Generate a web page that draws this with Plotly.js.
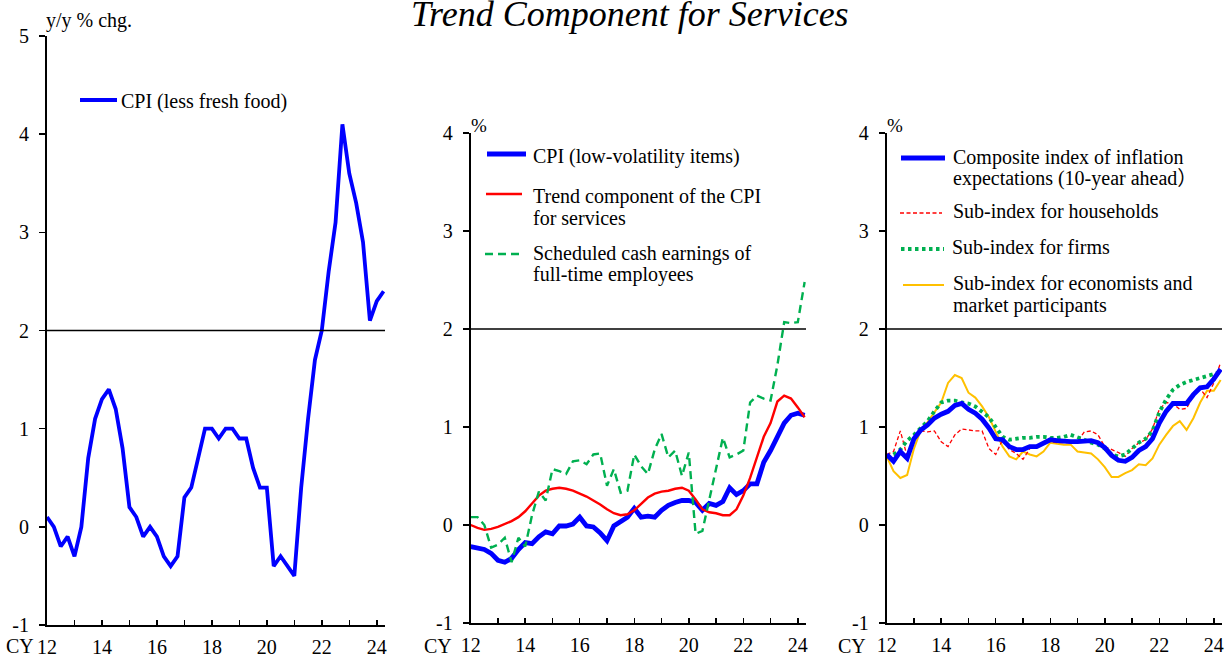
<!DOCTYPE html>
<html><head><meta charset="utf-8">
<script src="https://cdn.plot.ly/plotly-3.0.1.min.js"></script>
<style>html,body{margin:0;padding:0;background:#fff}#chart{width:1228px;height:657px}</style>
</head><body><div id="chart"></div>
<script>
// ---------------- DATA (quarterly, 2012Q1 - 2024Q2) ----------------
const START_YEAR = 2012;
const cpiLessFreshFood = [0.1, 0.0, -0.2, -0.1, -0.3, 0.0, 0.7, 1.1, 1.3, 1.4, 1.2, 0.8, 0.2, 0.1, -0.1, 0.0,
  -0.1, -0.3, -0.4, -0.3, 0.3, 0.4, 0.7, 1.0, 1.0, 0.9, 1.0, 1.0, 0.9, 0.9, 0.6, 0.4, 0.4, -0.4, -0.3, -0.4,
  -0.5, 0.4, 1.1, 1.7, 2.0, 2.6, 3.1, 4.1, 3.6, 3.3, 2.9, 2.1, 2.3, 2.4];
const cpiLowVolatility = [-0.22, -0.23, -0.25, -0.29, -0.36, -0.38, -0.34, -0.25, -0.18, -0.19, -0.12, -0.07,
  -0.09, -0.01, -0.01, 0.01, 0.08, -0.01, -0.02, -0.08, -0.16, -0.01, 0.03, 0.08, 0.17, 0.08, 0.09, 0.08,
  0.15, 0.20, 0.23, 0.25, 0.25, 0.23, 0.15, 0.22, 0.20, 0.24, 0.38, 0.31, 0.35, 0.42, 0.42, 0.64,
  0.76, 0.89, 1.04, 1.12, 1.14, 1.12];
const trendServices = [0.00, -0.03, -0.05, -0.04, -0.02, 0.01, 0.04, 0.08, 0.14, 0.22, 0.30, 0.35,
  0.37, 0.38, 0.37, 0.35, 0.32, 0.29, 0.25, 0.21, 0.16, 0.12, 0.10, 0.11, 0.15, 0.22, 0.28, 0.32,
  0.34, 0.35, 0.37, 0.38, 0.35, 0.26, 0.16, 0.13, 0.12, 0.10, 0.10, 0.16, 0.30, 0.48, 0.68, 0.90,
  1.04, 1.26, 1.32, 1.29, 1.20, 1.10];
const scheduledEarnings = [0.08, 0.08, 0.00, -0.23, -0.20, -0.13, -0.38, -0.13, -0.22, 0.10, 0.34, 0.25,
  0.57, 0.55, 0.52, 0.65, 0.66, 0.62, 0.72, 0.73, 0.40, 0.57, 0.33, 0.35, 0.72, 0.60, 0.52, 0.77,
  0.93, 0.69, 0.76, 0.50, 0.74, -0.09, -0.06, 0.26, 0.60, 0.89, 0.69, 0.72, 0.76, 1.25, 1.32, 1.29,
  1.27, 1.63, 2.07, 2.06, 2.07, 2.48];
const compositeExpect = [0.72, 0.65, 0.75, 0.68, 0.88, 0.97, 1.02, 1.09, 1.13, 1.16, 1.22, 1.24,
  1.18, 1.14, 1.08, 0.99, 0.88, 0.87, 0.80, 0.77, 0.77, 0.80, 0.80, 0.84, 0.87, 0.86, 0.85, 0.85,
  0.85, 0.86, 0.86, 0.84, 0.79, 0.71, 0.66, 0.65, 0.69, 0.76, 0.80, 0.88, 1.04, 1.16, 1.24, 1.24,
  1.24, 1.33, 1.40, 1.41, 1.49, 1.59];
const householdsExpect = [0.72, 0.75, 0.96, 0.70, 0.87, 0.96, 0.95, 0.96, 0.85, 0.80, 0.92, 0.98,
  0.97, 0.96, 0.96, 0.78, 0.72, 0.87, 0.77, 0.73, 0.67, 0.78, 0.80, 0.84, 0.85, 0.84, 0.84, 0.84,
  0.85, 0.95, 0.96, 0.92, 0.80, 0.77, 0.74, 0.70, 0.78, 0.84, 0.87, 0.98, 1.18, 1.25, 1.24, 1.18,
  1.19, 1.32, 1.39, 1.30, 1.45, 1.66];
const firmsExpect = [0.70, 0.72, 0.77, 0.86, 0.92, 0.99, 1.06, 1.16, 1.25, 1.27, 1.27, 1.25,
  1.24, 1.21, 1.16, 1.10, 1.00, 0.90, 0.87, 0.88, 0.89, 0.89, 0.90, 0.90, 0.89, 0.89, 0.90, 0.92,
  0.90, 0.87, 0.84, 0.82, 0.78, 0.72, 0.70, 0.72, 0.78, 0.84, 0.88, 0.96, 1.15, 1.28, 1.38, 1.43,
  1.46, 1.48, 1.50, 1.52, 1.54, 1.56];
const economistsExpect = [0.70, 0.55, 0.48, 0.51, 0.78, 0.97, 1.05, 1.15, 1.25, 1.45, 1.53, 1.50,
  1.35, 1.30, 1.21, 1.10, 0.95, 0.80, 0.70, 0.67, 0.75, 0.72, 0.70, 0.75, 0.84, 0.83, 0.82, 0.82,
  0.75, 0.74, 0.73, 0.67, 0.59, 0.49, 0.49, 0.53, 0.56, 0.62, 0.61, 0.68, 0.82, 0.92, 1.01, 1.06,
  0.97, 1.09, 1.25, 1.37, 1.37, 1.48];
const yearTicks = [2012, 2013, 2014, 2015, 2016, 2017, 2018, 2019, 2020, 2021, 2022, 2023, 2024];
const yearTickText = ['12', '', '14', '', '16', '', '18', '', '20', '', '22', '', '24'];
const yTicks1 = [-1, 0, 1, 2, 3, 4, 5];
const yTicks2 = [-1, 0, 1, 2, 3, 4];

// ---------------- BUILD ----------------
const quarterX = arr => arr.map((_, i) => START_YEAR + i / 4);
const W = 1228, H = 657;
const px = x => x / W, py = y => 1 - y / H;
const SERIF = '"Liberation Serif", "Times New Roman", "Noto Sans CJK JP", serif';
const BLUE = '#0000FF', RED = '#FF0000', GREEN = '#00B050', YELLOW = '#FFC000';

function line(y, xa, ya, color, width, dash) {
  return { x: quarterX(y), y: y, xaxis: xa, yaxis: ya, type: 'scatter', mode: 'lines',
    line: { color: color, width: width, dash: dash || 'solid' }, hoverinfo: 'skip' };
}
const traces = [
  line(cpiLessFreshFood, 'x', 'y', BLUE, 3.8),
  line(cpiLowVolatility, 'x2', 'y2', BLUE, 4.8),
  line(trendServices, 'x2', 'y2', RED, 2.4),
  line(scheduledEarnings, 'x2', 'y2', GREEN, 2.4, '8px,5px'),
  line(economistsExpect, 'x3', 'y3', YELLOW, 2),
  line(householdsExpect, 'x3', 'y3', RED, 1.3, '4px,2.5px'),
  line(firmsExpect, 'x3', 'y3', GREEN, 3.8, '3.5px,3.5px'),
  line(compositeExpect, 'x3', 'y3', BLUE, 4.8)
];

function xAx(d0, d1, anchor) {
  return { domain: [px(d0), px(d1)], range: [2012, 2024.3], anchor: anchor,
    tickmode: 'array', tickvals: yearTicks, ticktext: yearTickText,
    ticks: 'inside', ticklen: 5, tickwidth: 1.5, tickcolor: '#000',
    showline: true, linecolor: '#000', linewidth: 1.6, showgrid: false, zeroline: false,
    tickfont: { family: SERIF, size: 20, color: '#000' }, ticklabelstandoff: 3, fixedrange: true };
}
function yAx(top, bottom, range, vals, anchor) {
  return { domain: [py(bottom), py(top)], range: range, anchor: anchor,
    tickmode: 'array', tickvals: vals, ticktext: vals.map(String),
    ticks: 'outside', ticklen: 6, tickwidth: 1.5, tickcolor: '#000',
    showline: true, linecolor: '#000', linewidth: 2, showgrid: false, zeroline: false,
    tickfont: { family: SERIF, size: 20, color: '#000' }, ticklabelstandoff: 6, fixedrange: true };
}

const shapes = [];
const annotations = [];
['x', 'x2', 'x3'].forEach((xa, i) => {
  shapes.push({ type: 'line', xref: xa + ' domain', yref: ['y', 'y2', 'y3'][i], x0: 0, x1: 1, y0: 2, y1: 2,
    line: { color: '#000', width: 1.5 } });
});
function seg(x0, x1, y, color, width, dash) {
  shapes.push({ type: 'line', xref: 'paper', yref: 'paper', x0: px(x0), x1: px(x1), y0: py(y), y1: py(y),
    line: { color: color, width: width, dash: dash || 'solid' } });
}
function txt(x, y, text, size, anchor) {
  annotations.push({ xref: 'paper', yref: 'paper', x: px(x), y: py(y), text: text, showarrow: false,
    xanchor: anchor || 'left', yanchor: 'middle', font: { family: SERIF, size: size || 20, color: '#000' } });
}
// legend panel 1
seg(80, 117, 100, BLUE, 4);
txt(119, 101, 'CPI (less fresh food)');
// legend panel 2
seg(487, 526, 154, BLUE, 5);
txt(531, 156, 'CPI (low-volatility items)');
seg(486, 522, 194, RED, 2.5);
txt(531, 196, 'Trend component of the CPI');
txt(531, 218, 'for services');
seg(485, 522, 254, GREEN, 2.5, '8px,5px');
txt(531, 253, 'Scheduled cash earnings of');
txt(531, 275, 'full-time employees');
// legend panel 3
seg(901, 945, 158, BLUE, 5);
txt(951, 157, 'Composite index of inflation');
txt(951, 178, 'expectations (10-year ahead）');
seg(900, 942, 213, RED, 1.3, '4px,2.5px');
txt(951, 211, 'Sub-index for households');
seg(901, 944, 249, GREEN, 4, '3.5px,3.5px');
txt(950, 247, 'Sub-index for firms');
seg(903, 944, 285, YELLOW, 2);
txt(951, 283, 'Sub-index for economists and');
txt(951, 305, 'market participants');
// units and CY labels
txt(44, 20, 'y/y % chg.', 20);
txt(469, 125, '%', 19);
txt(885, 125, '%', 19);
txt(36, 646, 'CY', 20, 'right');
txt(454, 646, 'CY', 20, 'right');
txt(868, 646, 'CY', 20, 'right');
// title
annotations.push({ xref: 'paper', yref: 'paper', x: px(630), y: py(14), text: '<i>Trend Component for Services</i>',
  showarrow: false, xanchor: 'center', yanchor: 'middle', font: { family: SERIF, size: 36, color: '#000' } });

const layout = {
  width: W, height: H, margin: { l: 0, r: 0, t: 0, b: 0 },
  paper_bgcolor: '#fff', plot_bgcolor: 'rgba(0,0,0,0)', showlegend: false,
  font: { family: SERIF, size: 20, color: '#000' },
  xaxis: xAx(47, 385, 'y'), yaxis: yAx(36, 625, [-1, 5], yTicks1, 'x'),
  xaxis2: xAx(470.7, 806, 'y2'), yaxis2: yAx(133, 623, [-1, 4], yTicks2, 'x2'),
  xaxis3: xAx(886.7, 1222, 'y3'), yaxis3: yAx(133, 623, [-1, 4], yTicks2, 'x3'),
  shapes: shapes, annotations: annotations
};

Plotly.newPlot('chart', traces, layout, { staticPlot: true, displayModeBar: false });
</script>
</body></html>
